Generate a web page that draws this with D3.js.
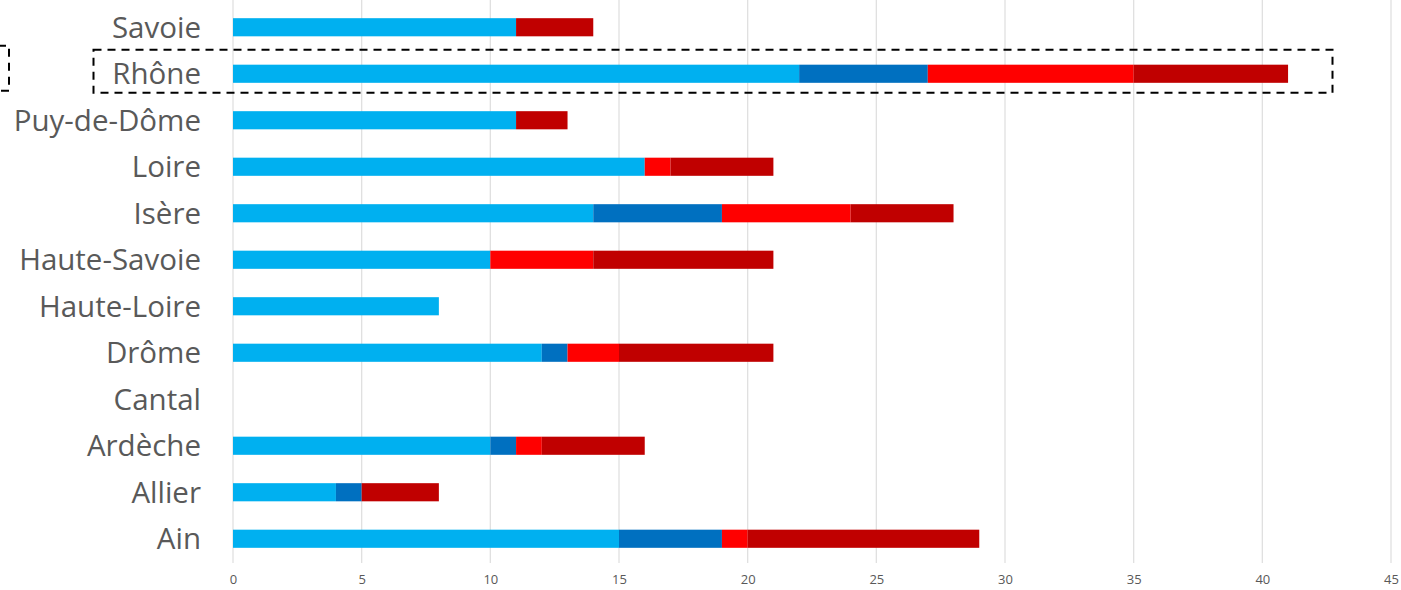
<!DOCTYPE html>
<html>
<head>
<meta charset="utf-8">
<script src="https://cdn.jsdelivr.net/npm/d3@7"></script>
<style>
  html, body { margin: 0; padding: 0; background: #fff; }
  svg { display: block; }
</style>
</head>
<body>
<svg id="chart" width="1401" height="590"></svg>
<script>
// Departments, top to bottom
const departments = ["Savoie", "Rhône", "Puy-de-Dôme", "Loire", "Isère", "Haute-Savoie",
                     "Haute-Loire", "Drôme", "Cantal", "Ardèche", "Allier", "Ain"];
// Four stacked series, one value per department
const seriesA = [11, 22, 11, 16, 14, 10, 8, 12, 0, 10, 4, 15];
const seriesB = [0, 5, 0, 0, 5, 0, 0, 1, 0, 1, 1, 4];
const seriesC = [0, 8, 0, 1, 5, 4, 0, 2, 0, 1, 0, 1];
const seriesD = [3, 6, 2, 4, 4, 7, 0, 6, 0, 4, 3, 9];
const seriesColors = ["#00B0F0", "#0070C0", "#FF0000", "#C00000"];
const xTicks = [0, 5, 10, 15, 20, 25, 30, 35, 40, 45];
const highlighted = "Rhône";

const svg = d3.select("#chart");
const x = d3.scaleLinear().domain([0, 45]).range([233, 1391]);
const y = d3.scaleBand().domain(departments).range([4, 562]).paddingInner(0.61).paddingOuter(0.305);

const rows = departments.map((d, i) => ({ dept: d, a: seriesA[i], b: seriesB[i], c: seriesC[i], d: seriesD[i] }));
const stack = d3.stack().keys(["a", "b", "c", "d"])(rows);

// vertical gridlines
svg.append("g").selectAll("line").data(xTicks).join("line")
  .attr("x1", d => x(d)).attr("x2", d => x(d))
  .attr("y1", 0).attr("y2", 563)
  .attr("stroke", "#e0e0e0").attr("stroke-width", 1.3);

// stacked bars
svg.append("g").selectAll("g").data(stack).join("g")
  .attr("fill", (s, i) => seriesColors[i])
  .selectAll("rect").data(s => s.filter(p => p[1] > p[0])).join("rect")
  .attr("x", p => x(p[0]))
  .attr("width", p => x(p[1]) - x(p[0]))
  .attr("y", p => y(p.data.dept))
  .attr("height", y.bandwidth());

// category labels
svg.append("g").selectAll("text").data(departments).join("text")
  .attr("x", 201)
  .attr("y", d => y(d) + y.bandwidth() / 2)
  .attr("dy", "0.36em")
  .attr("text-anchor", "end")
  .attr("font-family", "'Open Sans', sans-serif")
  .attr("font-size", 29.5)
  .attr("fill", "#595959")
  .text(d => d);

// x axis tick labels
const xAxis = d3.axisBottom(x).tickValues(xTicks).tickSize(0).tickPadding(0);
const gx = svg.append("g").attr("transform", "translate(0,575)").call(xAxis);
gx.select(".domain").remove();
gx.selectAll("text")
  .attr("font-family", "'Open Sans', sans-serif")
  .attr("font-size", 13)
  .attr("fill", "#595959");

// dashed highlight around the emphasised row
const hy = y(highlighted) + y.bandwidth() / 2;
svg.append("rect")
  .attr("x", 93.5).attr("y", hy - 24).attr("width", 1239).attr("height", 43)
  .attr("fill", "none").attr("stroke", "#000").attr("stroke-width", 2)
  .attr("stroke-dasharray", "8,6");
svg.append("rect")
  .attr("x", -100).attr("y", hy - 28).attr("width", 109).attr("height", 45)
  .attr("fill", "none").attr("stroke", "#000").attr("stroke-width", 2)
  .attr("stroke-dasharray", "8,6");
</script>
</body>
</html>
